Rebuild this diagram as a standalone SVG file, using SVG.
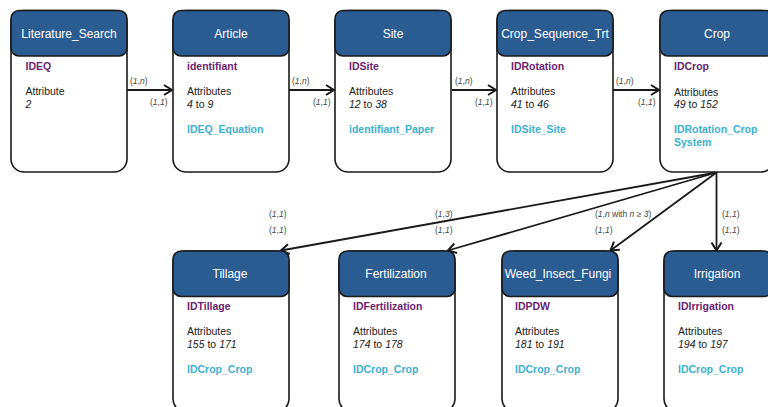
<svg xmlns="http://www.w3.org/2000/svg" width="768" height="407" viewBox="0 0 768 407">
<style>
.box{fill:#fff;stroke:#1a1a1a;stroke-width:1.6}
.hdr{fill:#2a5c92;stroke:#1a1a1a;stroke-width:1.6}
.ttl{font-family:"Liberation Sans",Arial,sans-serif;font-size:12px;fill:#fff;text-anchor:middle}
.pk{font-family:"Liberation Sans",Arial,sans-serif;font-size:10.5px;font-weight:bold;fill:#6b2372}
.at{font-family:"Liberation Sans",Arial,sans-serif;font-size:10.5px;fill:#222}
.fk{font-family:"Liberation Sans",Arial,sans-serif;font-size:10.5px;font-weight:bold;fill:#3cb0d0}
.lbl{font-family:"Liberation Sans",Arial,sans-serif;font-size:8.5px;fill:#444}
.i{font-style:italic}
.edge{stroke:#1a1a1a;stroke-width:1.8;fill:none;marker-end:url(#arr)}
</style>
<defs>
<marker id="arr" markerUnits="userSpaceOnUse" markerWidth="14" markerHeight="14" refX="10" refY="6" orient="auto">
<path d="M2,1 L10,6 L2,11" fill="none" stroke="#1a1a1a" stroke-width="2"/>
</marker>
</defs>

<g id="connectors">
<line class="edge" x1="127" y1="90" x2="172" y2="90"/>
<line class="edge" x1="289" y1="90" x2="334" y2="90"/>
<line class="edge" x1="452" y1="90" x2="496" y2="90"/>
<line class="edge" x1="613" y1="90" x2="659" y2="90"/>
<line class="edge" x1="716.5" y1="172.5" x2="281" y2="250.5"/>
<line class="edge" x1="716.5" y1="172.5" x2="448" y2="250.5"/>
<line class="edge" x1="716.5" y1="172.5" x2="610.5" y2="250.5"/>
<line class="edge" x1="716.5" y1="172.5" x2="716.5" y2="250.5"/>
<text class="lbl" x="130" y="84">(<tspan class="i">1</tspan>,<tspan class="i">n</tspan>)</text>
<text class="lbl" x="150" y="105">(<tspan class="i">1</tspan>,<tspan class="i">1</tspan>)</text>
<text class="lbl" x="292" y="84">(<tspan class="i">1</tspan>,<tspan class="i">n</tspan>)</text>
<text class="lbl" x="313" y="105">(<tspan class="i">1</tspan>,<tspan class="i">1</tspan>)</text>
<text class="lbl" x="455" y="84">(<tspan class="i">1</tspan>,<tspan class="i">n</tspan>)</text>
<text class="lbl" x="475" y="105">(<tspan class="i">1</tspan>,<tspan class="i">1</tspan>)</text>
<text class="lbl" x="616" y="84">(<tspan class="i">1</tspan>,<tspan class="i">n</tspan>)</text>
<text class="lbl" x="638" y="105">(<tspan class="i">1</tspan>,<tspan class="i">1</tspan>)</text>
<text class="lbl" x="269" y="216.5">(<tspan class="i">1</tspan>,<tspan class="i">1</tspan>)</text>
<text class="lbl" x="269" y="233">(<tspan class="i">1</tspan>,<tspan class="i">1</tspan>)</text>
<text class="lbl" x="435" y="216.5">(<tspan class="i">1</tspan>,<tspan class="i">3</tspan>)</text>
<text class="lbl" x="435" y="233">(<tspan class="i">1</tspan>,<tspan class="i">1</tspan>)</text>
<text class="lbl" x="595" y="216.5">(<tspan class="i">1</tspan>,<tspan class="i">n</tspan> with <tspan class="i">n</tspan> ≥ <tspan class="i">3</tspan>)</text>
<text class="lbl" x="595" y="233">(<tspan class="i">1</tspan>,<tspan class="i">1</tspan>)</text>
<text class="lbl" x="722" y="216.5">(<tspan class="i">1</tspan>,<tspan class="i">1</tspan>)</text>
<text class="lbl" x="722" y="233">(<tspan class="i">1</tspan>,<tspan class="i">1</tspan>)</text>
</g>

<g id="Literature_Search">
<rect class="box" x="11" y="10.5" width="116" height="161.5" rx="13"/>
<rect class="hdr" x="11" y="10.5" width="116" height="45.5" rx="8"/>
<text class="ttl" x="69" y="38">Literature_Search</text>
<text class="pk" x="25.5" y="69.5">IDEQ</text>
<text class="at" x="25.5" y="95">Attribute</text>
<text class="at i" x="25.5" y="108">2</text>
</g>

<g id="Article">
<rect class="box" x="173" y="10.5" width="116" height="161.5" rx="13"/>
<rect class="hdr" x="173" y="10.5" width="116" height="45.5" rx="8"/>
<text class="ttl" x="231" y="38">Article</text>
<text class="pk" x="187" y="69.5">identifiant</text>
<text class="at" x="187" y="95">Attributes</text>
<text class="at" x="187" y="108"><tspan class="i">4</tspan> to <tspan class="i">9</tspan></text>
<text class="fk" x="187" y="133">IDEQ_Equation</text>
</g>

<g id="Site">
<rect class="box" x="335" y="10.5" width="116" height="161.5" rx="13"/>
<rect class="hdr" x="335" y="10.5" width="116" height="45.5" rx="8"/>
<text class="ttl" x="393" y="38">Site</text>
<text class="pk" x="349" y="69.5">IDSite</text>
<text class="at" x="349" y="95">Attributes</text>
<text class="at" x="349" y="108"><tspan class="i">12</tspan> to <tspan class="i">38</tspan></text>
<text class="fk" x="349" y="133">identifiant_Paper</text>
</g>

<g id="Crop_Sequence_Trt">
<rect class="box" x="497" y="10.5" width="116" height="161.5" rx="13"/>
<rect class="hdr" x="497" y="10.5" width="116" height="45.5" rx="8"/>
<text class="ttl" x="555" y="38">Crop_Sequence_Trt</text>
<text class="pk" x="511" y="69.5">IDRotation</text>
<text class="at" x="511" y="95">Attributes</text>
<text class="at" x="511" y="108"><tspan class="i">41</tspan> to <tspan class="i">46</tspan></text>
<text class="fk" x="511" y="133">IDSite_Site</text>
</g>

<g id="Crop">
<rect class="box" x="660" y="10.5" width="114" height="161.5" rx="13"/>
<rect class="hdr" x="660" y="10.5" width="114" height="45.5" rx="8"/>
<text class="ttl" x="717" y="38">Crop</text>
<text class="pk" x="674" y="70">IDCrop</text>
<text class="at" x="674" y="95.5">Attributes</text>
<text class="at" x="674" y="108"><tspan class="i">49</tspan> to <tspan class="i">152</tspan></text>
<text class="fk" x="674" y="133">IDRotation_Crop</text>
<text class="fk" x="674" y="146">System</text>
</g>

<g id="Tillage">
<rect class="box" x="173" y="251" width="116" height="161" rx="13"/>
<rect class="hdr" x="173" y="251" width="116" height="45.5" rx="8"/>
<text class="ttl" x="230" y="278">Tillage</text>
<text class="pk" x="187" y="309.5">IDTillage</text>
<text class="at" x="187" y="335">Attributes</text>
<text class="at" x="187" y="348"><tspan class="i">155</tspan> to <tspan class="i">171</tspan></text>
<text class="fk" x="187" y="373">IDCrop_Crop</text>
</g>

<g id="Fertilization">
<rect class="box" x="339" y="251" width="116" height="161" rx="13"/>
<rect class="hdr" x="339" y="251" width="116" height="45.5" rx="8"/>
<text class="ttl" x="396" y="278">Fertilization</text>
<text class="pk" x="353" y="309.5">IDFertilization</text>
<text class="at" x="353" y="335">Attributes</text>
<text class="at" x="353" y="348"><tspan class="i">174</tspan> to <tspan class="i">178</tspan></text>
<text class="fk" x="353" y="373">IDCrop_Crop</text>
</g>

<g id="Weed_Insect_Fungi">
<rect class="box" x="502" y="251" width="116" height="161" rx="13"/>
<rect class="hdr" x="502" y="251" width="116" height="45.5" rx="8"/>
<text class="ttl" x="558" y="278">Weed_Insect_Fungi</text>
<text class="pk" x="515" y="309.5">IDPDW</text>
<text class="at" x="515" y="335">Attributes</text>
<text class="at" x="515" y="348"><tspan class="i">181</tspan> to <tspan class="i">191</tspan></text>
<text class="fk" x="515" y="373">IDCrop_Crop</text>
</g>

<g id="Irrigation">
<rect class="box" x="664" y="251" width="108" height="161" rx="13"/>
<rect class="hdr" x="664" y="251" width="108" height="45.5" rx="8"/>
<text class="ttl" x="717" y="278">Irrigation</text>
<text class="pk" x="678" y="309.5">IDIrrigation</text>
<text class="at" x="678" y="335">Attributes</text>
<text class="at" x="678" y="348"><tspan class="i">194</tspan> to <tspan class="i">197</tspan></text>
<text class="fk" x="678" y="373">IDCrop_Crop</text>
</g>
</svg>
